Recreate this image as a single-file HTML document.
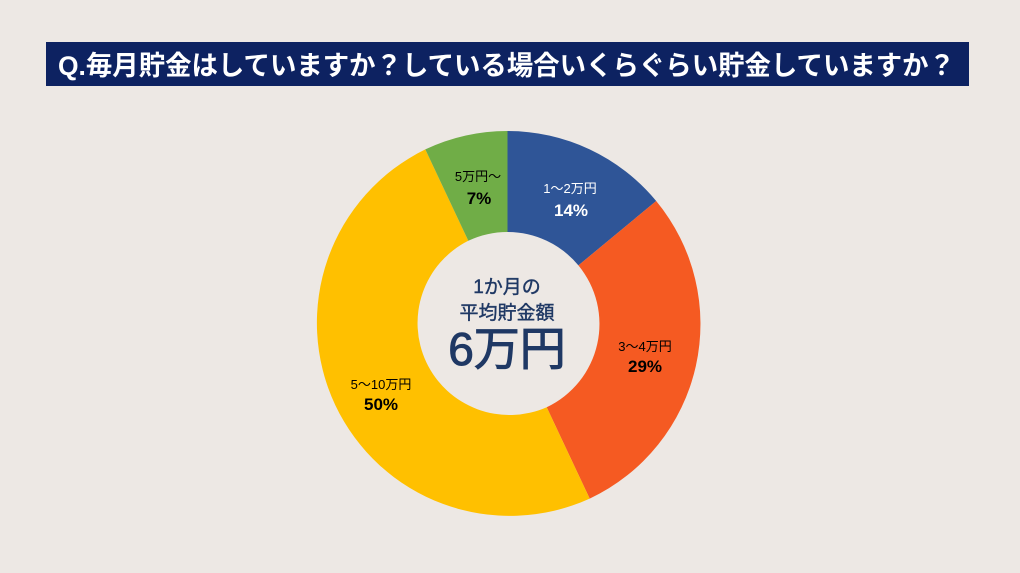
<!DOCTYPE html>
<html><head><meta charset="utf-8"><style>
html,body{margin:0;padding:0;background:#ede8e4;}
svg{display:block;}
text{font-family:"Liberation Sans","Noto Sans CJK JP",sans-serif;}
</style></head><body>
<svg width="1020" height="573" viewBox="0 0 1020 573" xmlns="http://www.w3.org/2000/svg">
<rect width="1020" height="573" fill="#ede8e4"/>
<rect x="46" y="42" width="923" height="44" fill="#0d2261"/>
<text x="58" y="75" font-size="27" font-weight="bold" fill="#fff" textLength="897" lengthAdjust="spacingAndGlyphs">Q.毎月貯金はしていますか？している場合いくらぐらい貯金していますか？</text>
<path d="M507.5,131 A193,193 0 0 1 656.2,201.0 L578.4,265.4 A92,92 0 0 0 507.5,232 Z" fill="#2f5597"/>
<path d="M656.2,201.0 A193,193 0 0 1 589.7,498.6 L546.7,407.2 A92,92 0 0 0 578.4,265.4 Z" fill="#f55a22"/>
<path d="M589.7,498.6 A193,193 0 0 1 425.3,149.4 L468.3,240.8 A92,92 0 0 0 546.7,407.2 Z" fill="#ffc000"/>
<path d="M425.3,149.4 A193,193 0 0 1 507.5,131 L507.5,232 A92,92 0 0 0 468.3,240.8 Z" fill="#70ad47"/>
<g text-anchor="middle">
<text x="507" y="293" font-size="19" fill="#1f3864" stroke="#1f3864" stroke-width="0.4">1か月の</text>
<text x="507" y="319" font-size="19" fill="#1f3864" stroke="#1f3864" stroke-width="0.4">平均貯金額</text>
<text x="507" y="365" font-size="46" fill="#1f3864" stroke="#1f3864" stroke-width="1">6万円</text>
<text x="570" y="193" font-size="13" fill="#fff">1〜2万円</text>
<text x="571" y="216" font-size="17" font-weight="bold" fill="#fff">14%</text>
<text x="645" y="351" font-size="13" fill="#000">3〜4万円</text>
<text x="645" y="372" font-size="17" font-weight="bold" fill="#000">29%</text>
<text x="381" y="389" font-size="13" fill="#000">5〜10万円</text>
<text x="381" y="410" font-size="17" font-weight="bold" fill="#000">50%</text>
<text x="478" y="181" font-size="13" fill="#000">5万円〜</text>
<text x="479" y="204" font-size="17" font-weight="bold" fill="#000">7%</text>
</g>
</svg>
</body></html>
